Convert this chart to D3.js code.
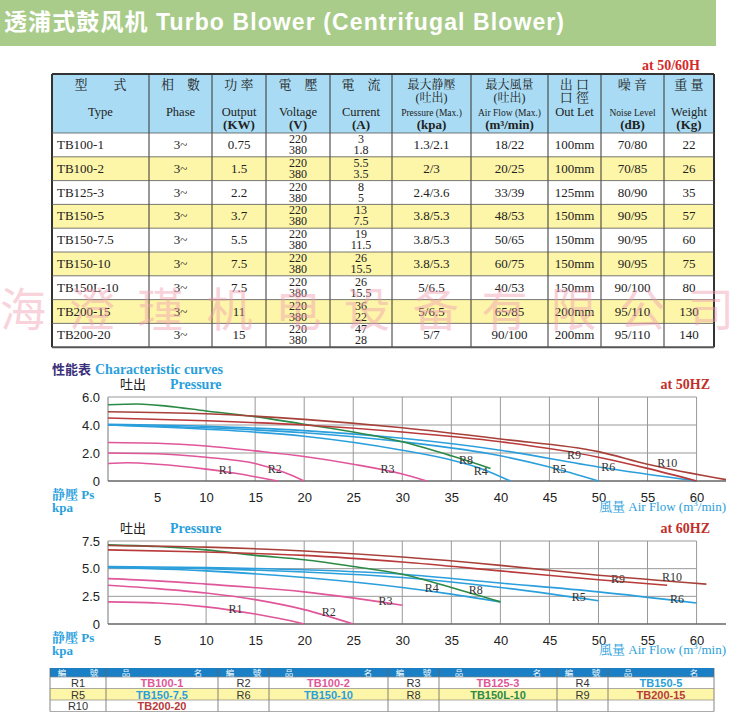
<!DOCTYPE html>
<html><head><meta charset="utf-8">
<script src="https://cdn.jsdelivr.net/npm/d3@7"></script>
<style>body{margin:0;background:#fff}svg{display:block}</style>
</head><body><div id="chart"></div>
<script>
// table data
const headCn = ["型　　式","相　數","功 率","電　壓","電　流","最大静壓\n(吐出)","最大風量\n(吐出)","出 口\n口 徑","噪 音","重 量"];
const headEn = ["Type","Phase","Output","Voltage","Current","Pressure (Max.)","Air Flow (Max.)","Out Let","Noise Level","Weight"];
const headUnit = ["","","(KW)","(V)","(A)","(kpa)","(m³/min)","","(dB)","(Kg)"];
const rows = [
  ["TB100-1","3~","0.75","220\n380","3\n1.8","1.3/2.1","18/22","100mm","70/80","22"],
  ["TB100-2","3~","1.5","220\n380","5.5\n3.5","2/3","20/25","100mm","70/85","26"],
  ["TB125-3","3~","2.2","220\n380","8\n5","2.4/3.6","33/39","125mm","80/90","35"],
  ["TB150-5","3~","3.7","220\n380","13\n7.5","3.8/5.3","48/53","150mm","90/95","57"],
  ["TB150-7.5","3~","5.5","220\n380","19\n11.5","3.8/5.3","50/65","150mm","90/95","60"],
  ["TB150-10","3~","7.5","220\n380","26\n15.5","3.8/5.3","60/75","150mm","90/95","75"],
  ["TB150L-10","3~","7.5","220\n380","26\n15.5","5/6.5","40/53","150mm","90/100","80"],
  ["TB200-15","3~","11","220\n380","36\n22","5/6.5","65/85","200mm","95/110","130"],
  ["TB200-20","3~","15","220\n380","47\n28","5/7","90/100","200mm","95/110","140"]
];
const colEdges = [52,149,212,266,330,392,471,548,601,664,714];

// curves: [airflow, pressure]
const curves50 = [
  {id:"R1",c:"#e0569a",lab:[12,0.5],pts:[[0,1.25],[2,1.3],[5,1.2],[10,0.85],[13,0.55],[15,0.3],[17.3,0]]},
  {id:"R2",c:"#e0569a",lab:[17,0.6],pts:[[0,2.0],[5,1.95],[10,1.7],[15,1.25],[18,0.6],[20,0]]},
  {id:"R3",c:"#e0569a",lab:[28.5,0.55],pts:[[0,2.75],[5,2.7],[10,2.5],[15,2.15],[20,1.75],[25,1.2],[30,0.5],[32.5,0]]},
  {id:"R4",c:"#2a9fdc",lab:[38,0.4],pts:[[0,4.0],[10,3.7],[20,3.2],[30,2.2],[35,1.5],[38,0.9],[41,0]]},
  {id:"R5",c:"#2a9fdc",lab:[46,0.55],pts:[[0,4.0],[10,3.8],[20,3.45],[30,2.8],[40,1.8],[45,1.0],[50,0]]},
  {id:"R6",c:"#2a9fdc",lab:[51,0.7],pts:[[0,4.05],[10,3.9],[20,3.6],[30,3.05],[40,2.2],[50,1.0],[60,0]]},
  {id:"R8",c:"#2b8a45",lab:[36.5,1.2],pts:[[0,5.45],[3,5.5],[6,5.35],[10,5.0],[15,4.6],[20,4.05],[25,3.5],[30,2.8],[35,1.8],[39,0.9]]},
  {id:"R9",c:"#b83a3a",lab:[47.5,1.55],pts:[[0,4.5],[10,4.3],[20,4.0],[30,3.5],[40,2.8],[50,1.7],[55,0.9],[60,0]]},
  {id:"R10",c:"#a8403a",lab:[57,1.0],pts:[[0,4.95],[10,4.8],[20,4.4],[30,3.8],[40,3.0],[50,2.1],[55,1.2],[63,0.1]]}
];
const curves60 = [
  {id:"R1",c:"#e0569a",lab:[13,0.95],pts:[[0,2.0],[5,1.9],[10,1.55],[15,0.9],[18,0.4],[20,0]]},
  {id:"R2",c:"#e0569a",lab:[22.5,0.75],pts:[[0,3.5],[5,3.2],[10,2.8],[15,2.2],[20,1.3],[25,0]]},
  {id:"R3",c:"#e0569a",lab:[28.3,1.75],pts:[[0,4.1],[5,3.9],[10,3.6],[20,2.9],[30,1.7]]},
  {id:"R4",c:"#2a9fdc",lab:[33,2.85],pts:[[0,5.1],[10,4.8],[20,4.2],[30,3.3],[35,2.7],[40,2.0]]},
  {id:"R5",c:"#2a9fdc",lab:[48,2.1],pts:[[0,5.1],[10,5.0],[20,4.7],[30,4.2],[40,3.3],[50,2.1]]},
  {id:"R6",c:"#2a9fdc",lab:[58,1.9],pts:[[0,5.2],[10,5.1],[20,4.9],[30,4.5],[40,3.7],[50,2.9],[60,1.9]]},
  {id:"R8",c:"#2b8a45",lab:[37.5,2.75],pts:[[0,7.15],[5,7.0],[10,6.7],[15,6.2],[20,5.8],[25,5.2],[30,4.5],[35,3.3],[40,2.0]]},
  {id:"R9",c:"#b83a3a",lab:[52,3.75],pts:[[0,6.7],[10,6.5],[20,6.2],[30,5.6],[40,4.8],[50,4.0],[57,3.5]]},
  {id:"R10",c:"#a8403a",lab:[57.5,3.9],pts:[[0,7.1],[10,6.95],[20,6.6],[30,6.05],[40,5.3],[50,4.4],[61,3.6]]}
];
const xTicks = [5,10,15,20,25,30,35,40,45,50,55,60];
const yTicks50 = [0,2,4,6];
const yTicks60 = [0,2.5,5,7.5];

// legend table
const legend = [
  [["R1","TB100-1","#e0569a"],["R2","TB100-2","#e0569a"],["R3","TB125-3","#e0569a"],["R4","TB150-5","#2a9fdc"]],
  [["R5","TB150-7.5","#2a9fdc"],["R6","TB150-10","#2a9fdc"],["R8","TB150L-10","#2b8a45"],["R9","TB200-15","#b83a3a"]],
  [["R10","TB200-20","#b83a3a"]]
];
const legEdges = [50,106,218,269,388,439,557,608,714];
const watermark = "海澄瑾机电设备有限公司";

const svg = d3.select("#chart").append("svg").attr("width",734).attr("height",720);
const serif = "'Liberation Serif','Noto Serif CJK SC','Noto Sans CJK SC',serif";
const sans = "'Liberation Sans',Arial,'Noto Sans CJK SC',sans-serif";

// header band
svg.append("rect").attr("x",0).attr("y",0).attr("width",716).attr("height",46).attr("fill","#a9cc8a");
svg.append("text").attr("x",4).attr("y",30).attr("font-family",sans).attr("font-weight","bold")
  .attr("font-size",23).attr("fill","#fff").attr("textLength",560)
  .text("透浦式鼓风机 Turbo  Blower (Centrifugal Blower)");
svg.append("text").attr("x",700).attr("y",70).attr("text-anchor","end").attr("font-family",serif)
  .attr("font-weight","bold").attr("font-size",14).attr("fill","#d42a2a").text("at  50/60H");

// spec table
const tTop = 74, hH = 59, rH = 23.8;
const tbl = svg.append("g");
tbl.append("rect").attr("x",colEdges[0]).attr("y",tTop).attr("width",colEdges[10]-colEdges[0]).attr("height",hH).attr("fill","#a9dcf4");
rows.forEach((r,i)=>{
  tbl.append("rect").attr("x",colEdges[0]).attr("y",tTop+hH+i*rH).attr("width",colEdges[10]-colEdges[0]).attr("height",rH)
    .attr("fill", i%2 ? "#fdf5a8" : "#fff");
});
function multi(g,x,y,str,size,lh,opts){
  const lines = str.split("\n");
  lines.forEach((l,k)=>{
    const t = g.append("text").attr("x",x).attr("y",y+k*lh).attr("text-anchor",opts.anchor||"middle")
      .attr("font-family",serif).attr("font-size",size).attr("fill",opts.fill||"#222").text(l);
    if(opts.bold) t.attr("font-weight","bold");
  });
}
headCn.forEach((h,j)=>{
  const cx=(colEdges[j]+colEdges[j+1])/2;
  multi(tbl,cx,tTop+15,h,j===5||j===6?12:13,13,{});
  multi(tbl,cx,tTop+42,headEn[j],j===5||j===6||j===8?9.5:12.5,13,{});
  if(headUnit[j]) multi(tbl,cx,tTop+55,headUnit[j],13,13,{bold:true});
});
rows.forEach((r,i)=>{
  const y0 = tTop+hH+i*rH;
  r.forEach((v,j)=>{
    const cx = j===0 ? colEdges[0]+5 : (colEdges[j]+colEdges[j+1])/2;
    const two = v.includes("\n");
    multi(tbl,cx,two?y0+10:y0+16,v,two?12:13,11,{anchor:j===0?"start":"middle"});
  });
});
const tBot = tTop+hH+rows.length*rH;
colEdges.forEach(x=>tbl.append("line").attr("x1",x).attr("x2",x).attr("y1",tTop).attr("y2",tBot).attr("stroke","#333").attr("stroke-width",x===colEdges[0]||x===colEdges[10]?2:1));
d3.range(rows.length+1).forEach(i=>{const y=tTop+hH+i*rH;
  tbl.append("line").attr("x1",colEdges[0]).attr("x2",colEdges[10]).attr("y1",y).attr("y2",y).attr("stroke","#555").attr("stroke-width",i===rows.length?2:0.8);});
tbl.append("line").attr("x1",colEdges[0]).attr("x2",colEdges[10]).attr("y1",tTop).attr("y2",tTop).attr("stroke","#333").attr("stroke-width",2);

// watermark over the table
svg.append("text").attr("x",0).attr("y",326).attr("font-family","'Noto Sans CJK SC'")
  .attr("font-size",46).attr("fill","#f0a0b0").attr("opacity",0.45).attr("textLength",734).text(watermark);

// section title
svg.append("text").attr("x",52).attr("y",374).attr("font-family",sans).attr("font-weight","bold").attr("font-size",13)
  .attr("fill","#3a2f7a").text("性能表");
svg.append("text").attr("x",95).attr("y",374).attr("font-family",serif).attr("font-weight","bold").attr("font-size",14)
  .attr("fill","#2a9fdc").text("Characteristic curves");

function chart(curves, yMax, yTicks, top, bottom, hz){
  const x = d3.scaleLinear().domain([0,63]).range([108,726]);
  const y = d3.scaleLinear().domain([0,yMax]).range([bottom,top]);
  const g = svg.append("g");
  [0,...xTicks.filter(v=>v>=10)].forEach(v=>g.append("line").attr("x1",x(v)).attr("x2",x(v)).attr("y1",y(0)).attr("y2",y(yMax))
    .attr("stroke",v===0?"#777":"#999").attr("stroke-width",1));
  yTicks.forEach(v=>g.append("line").attr("x1",x(0)).attr("x2",x(v===0?63:60)).attr("y1",y(v)).attr("y2",y(v))
    .attr("stroke",v===0?"#666":"#999").attr("stroke-width",v===0?1.5:1));
  const ax = g.append("g").attr("transform",`translate(0,${y(0)+12})`)
    .call(d3.axisBottom(x).tickValues(xTicks).tickSize(0).tickPadding(0));
  ax.select(".domain").remove();
  ax.selectAll("text").attr("font-family",sans).attr("font-size",13).attr("fill","#222");
  const ay = g.append("g").attr("transform",`translate(${x(0)-8},0)`)
    .call(d3.axisLeft(y).tickValues(yTicks).tickSize(0).tickPadding(0).tickFormat(d=>d===0?"0":d3.format(".1f")(d)));
  ay.select(".domain").remove();
  ay.selectAll("text").attr("font-family",sans).attr("font-size",13).attr("fill","#222");
  const line = d3.line().x(d=>x(d[0])).y(d=>y(d[1])).curve(d3.curveMonotoneX);
  curves.forEach(c=>{
    g.append("path").attr("d",line(c.pts)).attr("fill","none").attr("stroke",c.c).attr("stroke-width",1.6);
    g.append("text").attr("x",x(c.lab[0])).attr("y",y(c.lab[1])).attr("font-family",serif).attr("font-size",12)
      .attr("fill","#333").attr("text-anchor","middle").text(c.id);
  });
  const ty = top-8;
  g.append("text").attr("x",120).attr("y",ty).attr("font-family","'Noto Sans CJK SC'").attr("font-size",13).attr("fill","#222").text("吐出");
  g.append("text").attr("x",170).attr("y",ty).attr("font-family",serif).attr("font-weight","bold").attr("font-size",14).attr("fill","#2a9fdc").text("Pressure");
  g.append("text").attr("x",710).attr("y",ty).attr("text-anchor","end").attr("font-family",serif).attr("font-weight","bold")
    .attr("font-size",14).attr("fill","#c0302a").text("at  "+hz);
  const by = y(0);
  g.append("text").attr("x",52).attr("y",by+18).attr("font-family",serif).attr("font-weight","bold").attr("font-size",13).attr("fill","#2a9fdc").text("静壓 Ps");
  g.append("text").attr("x",52).attr("y",by+31).attr("font-family",serif).attr("font-weight","bold").attr("font-size",13).attr("fill","#2a9fdc").text("kpa");
  g.append("text").attr("x",726).attr("y",by+30).attr("text-anchor","end").attr("font-family",serif).attr("font-size",13)
    .attr("fill","#2a9fdc").html("風量  Air Flow (m<tspan dy='-5' font-size='9'>3</tspan><tspan dy='5'>/min)</tspan>");
}
chart(curves50, 6, yTicks50, 397, 481, "50HZ");
chart(curves60, 7.5, yTicks60, 541, 624, "60HZ");

// legend table
const lTop = 668, lh0 = 9, lr = 11.5;
const lg = svg.append("g");
lg.append("rect").attr("x",legEdges[0]).attr("y",lTop).attr("width",legEdges[8]-legEdges[0]).attr("height",lh0).attr("fill","#1a7fc4");
legend.forEach((r,i)=>lg.append("rect").attr("x",legEdges[0]).attr("y",lTop+lh0+i*lr).attr("width",legEdges[8]-legEdges[0]).attr("height",lr)
  .attr("fill",i===1?"#fdf5a8":"#fff"));
function hdr(x,t){lg.append("text").attr("x",x).attr("y",lTop+8).attr("text-anchor","middle").attr("font-family","'Noto Sans CJK SC'")
  .attr("font-size",8.5).attr("fill","#fff").text(t);}
d3.range(4).forEach(k=>{
  const a=legEdges[2*k],b=legEdges[2*k+1],c=legEdges[2*k+2];
  hdr(a+12,"編"); hdr(b-12,"號"); hdr(b+20,"品"); hdr(c-20,"名");
});
legend.forEach((r,i)=>{
  const y0=lTop+lh0+i*lr+10;
  r.forEach((cell,k)=>{
    const a=legEdges[2*k],b=legEdges[2*k+1],c=legEdges[2*k+2];
    lg.append("text").attr("x",(a+b)/2).attr("y",y0).attr("text-anchor","middle").attr("font-family",sans).attr("font-size",11).attr("fill","#333").text(cell[0]);
    lg.append("text").attr("x",(b+c)/2).attr("y",y0).attr("text-anchor","middle").attr("font-family",sans).attr("font-weight","bold").attr("font-size",11).attr("fill",cell[2]).text(cell[1]);
  });
});
const lBot = lTop+lh0+3*lr;
legEdges.forEach(x=>lg.append("line").attr("x1",x).attr("x2",x).attr("y1",lTop).attr("y2",lBot).attr("stroke","#666").attr("stroke-width",0.8));
d3.range(4).forEach(i=>{const y=lTop+lh0+i*lr;lg.append("line").attr("x1",legEdges[0]).attr("x2",legEdges[8]).attr("y1",y).attr("y2",y).attr("stroke","#888").attr("stroke-width",0.7);});
</script></body></html>
